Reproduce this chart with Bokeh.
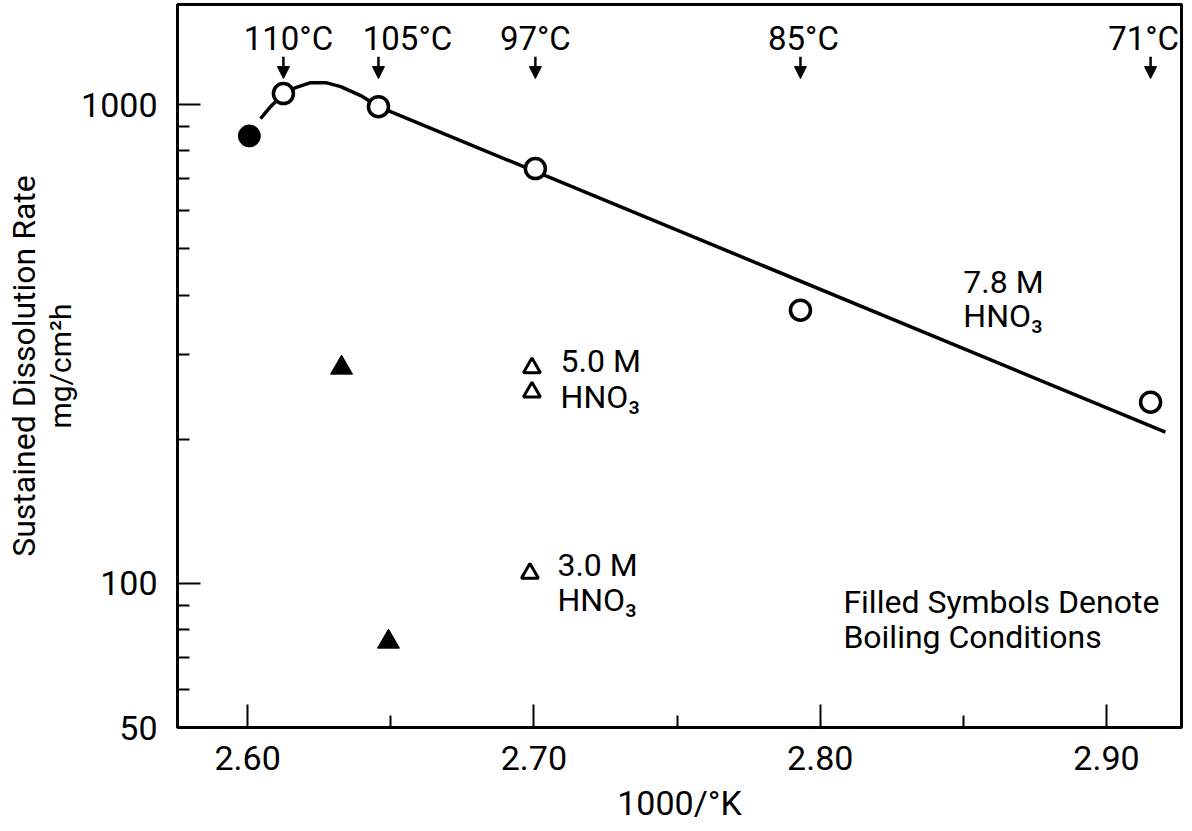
from bokeh.plotting import figure
from bokeh.models import (FixedTicker, Range1d, Arrow, NormalHead, ColumnDataSource, Label,
                          LinearAxis)
from bokeh.core.properties import value
from bokeh.embed import file_html
from bokeh.resources import INLINE

FONT = "Roboto"

# ---- data ----
# 7.8 M HNO3, open circles (non-boiling)
open_x = [2.6125, 2.6457, 2.7005, 2.7931, 2.9154]
open_y = [1054, 990, 735, 372, 239]
# 7.8 M HNO3, filled circle (boiling)
boil_circle_x = [2.6006]
boil_circle_y = [860]
# 5.0 M and 3.0 M HNO3, open triangles
tri_open_x = [2.6993, 2.6993, 2.6986]
tri_open_y = [282, 251, 105]
# filled triangles (boiling)
tri_fill_x = [2.6328, 2.6492]
tri_fill_y = [282, 75.5]
# fitted curve for 7.8 M HNO3
curve_x = [2.6045, 2.6080, 2.6125, 2.6168, 2.6220, 2.6273, 2.6325, 2.6395, 2.6457, 2.9206]
curve_y = [935, 990, 1054, 1085, 1111, 1111, 1090, 1044, 990, 207]
# temperature markers
temp_labels = ["110°C", "105°C", "97°C", "85°C", "71°C"]
temp_x = [2.6125, 2.6457, 2.7005, 2.7931, 2.9154]

x_ticks = [2.60, 2.70, 2.80, 2.90]
x_tick_labels = ["2.60", "2.70", "2.80", "2.90"]
x_minor = [2.65, 2.75, 2.85]
y_ticks = [50, 100, 1000]
y_tick_labels = ["50", "100", "1000"]
y_minor = [60, 70, 80, 90, 200, 300, 400, 500, 600, 700, 800, 900]

p = figure(width=1192, height=831, y_axis_type="log",
           x_range=Range1d(2.5755, 2.9262), y_range=Range1d(50, 1618),
           output_backend="svg", toolbar_location=None,
           min_border_left=177, min_border_right=11, min_border_top=4, min_border_bottom=104)
p.background_fill_color = "white"
p.border_fill_color = "white"
p.grid.visible = False
p.outline_line_color = "black"
p.outline_line_width = 3

# axes
p.xaxis.ticker = FixedTicker(ticks=x_ticks, minor_ticks=x_minor)
p.xaxis.major_label_overrides = {t: l for t, l in zip(x_ticks, x_tick_labels)}
p.yaxis.ticker = FixedTicker(ticks=y_ticks, minor_ticks=y_minor)
p.yaxis.major_label_overrides = {float(t): l for t, l in zip(y_ticks, y_tick_labels)}
for ax in (p.xaxis[0], p.yaxis[0]):
    ax.axis_line_color = "black"
    ax.axis_line_width = 3
    ax.major_tick_line_width = 2
    ax.minor_tick_line_width = 2
    ax.major_tick_line_color = "black"
    ax.minor_tick_line_color = "black"
    ax.major_tick_in = 23
    ax.major_tick_out = 0
    ax.minor_tick_in = 12
    ax.minor_tick_out = 0
    ax.major_label_text_font = FONT
    ax.major_label_text_font_size = "34px"
    ax.major_label_text_color = "black"
    ax.axis_label_text_font = FONT
    ax.axis_label_text_font_style = "normal"
    ax.axis_label_text_color = "black"
p.xaxis.major_label_standoff = 18
p.xaxis.axis_label = "1000/°K"
p.xaxis.axis_label_text_font_size = "34px"
p.xaxis.axis_label_standoff = 10
p.yaxis.major_label_standoff = 20
p.yaxis.axis_label = "mg/cm²h"
p.yaxis.axis_label_text_font_size = "30px"
p.yaxis.axis_label_standoff = 0

# outer title axis for the y quantity
outer = LinearAxis(ticker=FixedTicker(ticks=[]), axis_line_color=None,
                   major_tick_line_color=None, minor_tick_line_color=None,
                   major_label_text_font_size="0px",
                   axis_label="Sustained Dissolution Rate", axis_label_text_font=FONT,
                   axis_label_text_font_size="32px", axis_label_text_font_style="normal",
                   axis_label_text_color="black", axis_label_standoff=-2)
p.add_layout(outer, "left")

# curve
p.line(curve_x, curve_y, line_color="black", line_width=3.5)

# markers
p.scatter(open_x, open_y, marker="circle", size=20, fill_color="white",
          line_color="black", line_width=3.5)
p.scatter(boil_circle_x, boil_circle_y, marker="circle", size=22, fill_color="black",
          line_color="black")
p.scatter(tri_open_x, tri_open_y, marker="triangle", size=17, fill_color="white",
          line_color="black", line_width=3)
p.scatter(tri_fill_x, tri_fill_y, marker="triangle", size=22, fill_color="black",
          line_color="black")

# temperature arrows and labels
arrow_src = ColumnDataSource(dict(x=temp_x, y0=[1259] * len(temp_x), y1=[1133] * len(temp_x)))
p.add_layout(Arrow(x_start="x", y_start="y0", x_end="x", y_end="y1", source=arrow_src,
                   line_color="black", line_width=2.5,
                   end=NormalHead(size=12, fill_color="black", line_color="black")))
label_src = ColumnDataSource(dict(x=temp_x, y=[1373] * len(temp_x), t=temp_labels,
                                  dx=[5, 29, 0, 3, -7]))
p.text(x="x", y="y", text="t", x_offset="dx", source=label_src,
       text_align="center", text_baseline="middle", text_font=value(FONT),
       text_font_size="33px", text_color="black")

# annotations
notes = [
    (2.7093, 290.8, "5.0 M"), (2.7093, 244.5, "HNO₃"),
    (2.7082, 109, "3.0 M"), (2.7082, 92.2, "HNO₃"),
    (2.8500, 425, "7.8 M"), (2.8500, 361, "HNO₃"),
    (2.8081, 91.3, "Filled  Symbols Denote"), (2.8081, 77.1, "Boiling Conditions"),
]
for nx, ny, nt in notes:
    p.add_layout(Label(x=nx, y=ny, text=nt, text_align="left", text_baseline="middle",
                       text_font=FONT, text_font_size="32px", text_color="black"))

open("out.html", "w").write(file_html(p, INLINE))
